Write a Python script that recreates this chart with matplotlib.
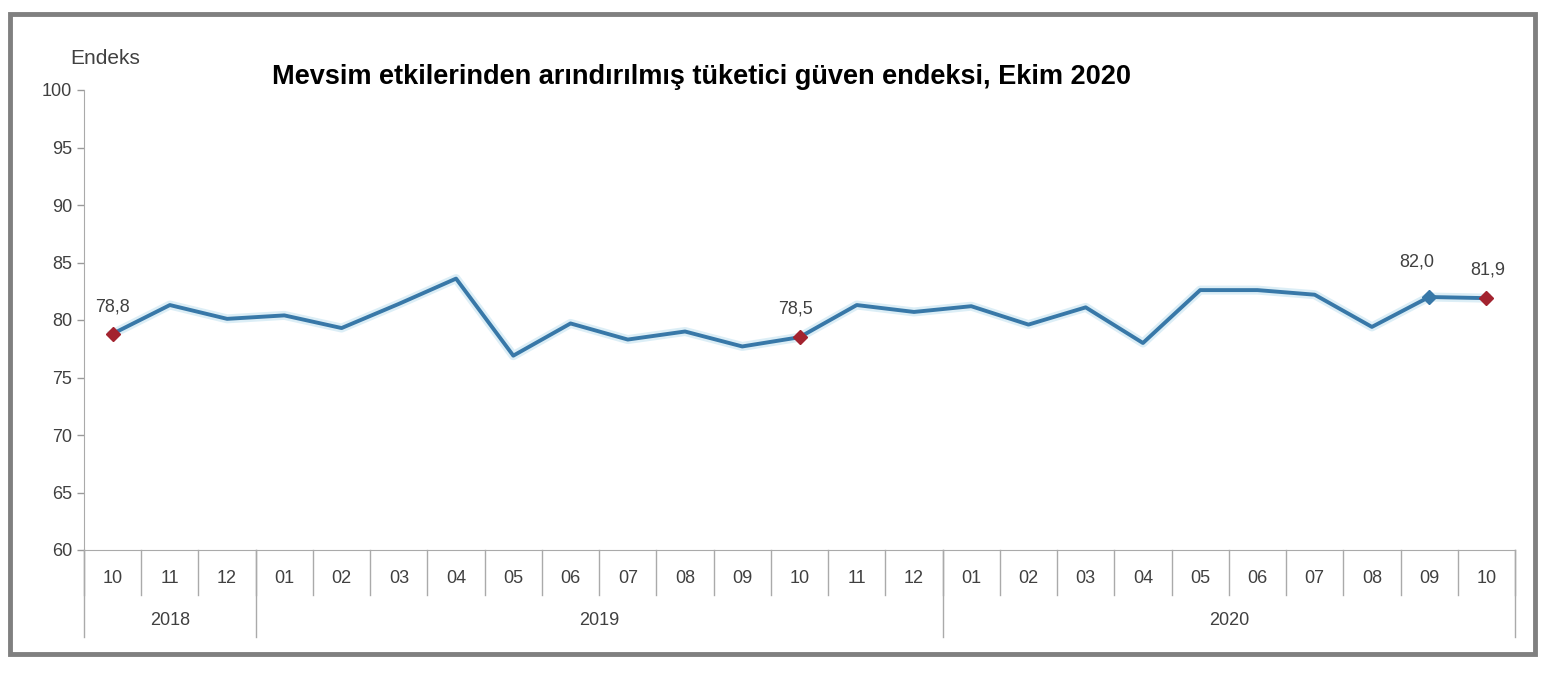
import numpy as np
import matplotlib.pyplot as plt
import matplotlib.patheffects as pe
from matplotlib.patches import Rectangle
import matplotlib.transforms as mtransforms

plt.rcParams['font.family'] = ['Liberation Sans', 'DejaVu Sans']

# data
months = ['10', '11', '12', '01', '02', '03', '04', '05', '06', '07', '08', '09', '10',
          '11', '12', '01', '02', '03', '04', '05', '06', '07', '08', '09', '10']
years = ['2018', '2019', '2020']
year_len = [3, 12, 10]
endeks = [78.8, 81.3, 80.1, 80.4, 79.3, 81.4, 83.6, 76.9, 79.7, 78.3, 79.0, 77.7, 78.5,
          81.3, 80.7, 81.2, 79.6, 81.1, 78.0, 82.6, 82.6, 82.2, 79.4, 82.0, 81.9]
red_idx = [0, 12, 24]
blue_idx = [23]
label_idx = [0, 12, 23, 24]

line_col = '#3878a8'
red_col = '#a3232f'
txt_col = '#404040'

fig = plt.figure(figsize=(15.57, 6.75), dpi=100)
ax = fig.add_axes([84 / 1557, 1 - 550 / 675, (1515 - 84) / 1557, 460 / 675])

x = np.arange(len(endeks))
ax.plot(x, endeks, color=line_col, linewidth=2.8, zorder=3,
        path_effects=[pe.Stroke(linewidth=6.5, foreground='#dceef6'), pe.Normal()])
ax.plot(x[red_idx], np.array(endeks)[red_idx], linestyle='none', marker='D',
        markersize=7, color=red_col, zorder=4)
ax.plot(x[blue_idx], np.array(endeks)[blue_idx], linestyle='none', marker='D',
        markersize=7, color=line_col, zorder=4)

offsets = {0: (0, 13), 12: (-3, 14), 23: (-9, 19), 24: (1, 14)}
for i in label_idx:
    ax.annotate(f'{endeks[i]:.1f}'.replace('.', ','), (x[i], endeks[i]),
                xytext=offsets[i], textcoords='offset points', ha='center',
                va='bottom', fontsize=13, color=txt_col)

ax.set_xlim(-0.5, len(endeks) - 0.5)
ax.set_ylim(60, 100)
ax.set_yticks(np.arange(60, 101, 5))
ax.tick_params(axis='y', labelsize=13, labelcolor=txt_col, color='#999999', length=5, width=1)
ax.set_xticks([])
for s in ['top', 'right']:
    ax.spines[s].set_visible(False)
ax.spines['left'].set_color('#aaaaaa')
ax.spines['bottom'].set_color('#aaaaaa')

# category axis with two tiers
trans = mtransforms.blended_transform_factory(ax.transData, ax.transAxes)
for i, m in enumerate(months):
    ax.text(i, -0.061, m, transform=trans, ha='center', va='center',
            fontsize=13, color=txt_col)
for b in np.arange(-0.5, len(endeks), 1.0):
    ax.plot([b, b], [0, -0.098], transform=trans, color='#aaaaaa', lw=1, clip_on=False)
start = -0.5
bounds = [start]
for y, n in zip(years, year_len):
    mid = start + n / 2
    ax.text(mid, -0.154, y, transform=trans, ha='center', va='center',
            fontsize=13, color=txt_col)
    start += n
    bounds.append(start)
bounds[-1] = len(endeks) - 0.5
for b in bounds:
    ax.plot([b, b], [0, -0.189], transform=trans, color='#aaaaaa', lw=1, clip_on=False)

fig.text(70 / 1557, 1 - 58 / 675, 'Endeks', fontsize=15, color=txt_col, va='center')
fig.text(701 / 1557, 1 - 77 / 675,
         'Mevsim etkilerinden arındırılmış tüketici güven endeksi, Ekim 2020',
         fontsize=19.5, fontweight='bold', ha='center', va='center', color='black')

fig.patches.append(Rectangle((10 / 1557, 1 - 654 / 675), 1525 / 1557, 640 / 675,
                             transform=fig.transFigure, fill=False,
                             edgecolor='#808080', linewidth=3.5))

fig.savefig('out.png', dpi=100)
